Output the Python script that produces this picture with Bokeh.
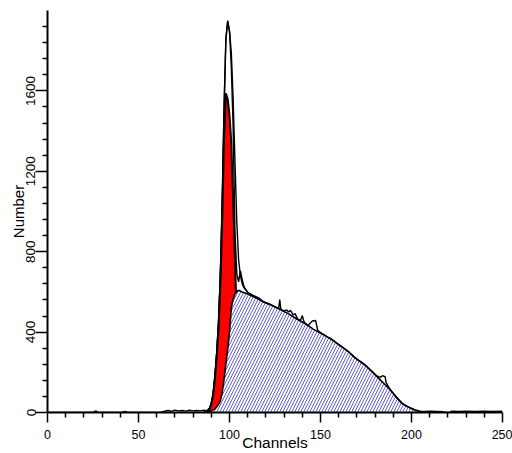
from bokeh.plotting import figure
from bokeh.models import Range1d, FixedTicker
from bokeh.embed import file_html
from bokeh.resources import INLINE

# ---- data ----
# G1 peak (red)
g1_ch = [86, 88, 89, 90, 91, 92, 93, 94, 95, 96, 97, 98, 99, 100, 101, 102, 103, 104, 105, 106, 107, 108, 110]
g1_val = [0, 2, 15, 40, 85, 170, 280, 420, 640, 960, 1360, 1588, 1560, 1480, 1340, 1060, 760, 470, 260, 120, 50, 20, 0]

# S-phase (hatched)
s_ch = [88, 90, 92, 93, 94, 95, 96, 97, 98, 99, 100, 101, 102, 103, 104, 105, 107, 110, 115, 119, 124, 128,
        133, 137, 142, 146, 151, 156, 160, 165, 169, 174, 179, 182, 185, 188, 190, 193, 195, 198, 200, 202, 205, 208]
s_val = [0, 8, 18, 28, 40, 58, 100, 165, 240, 315, 400, 520, 565, 590, 602, 608, 600, 590, 568, 548, 530, 512,
         488, 465, 440, 415, 390, 364, 338, 305, 272, 240, 198, 170, 143, 116, 94, 64, 44, 29, 20, 12, 5, 0]

# fitted total
fit_ch = [86, 88, 89, 90, 91, 92, 93, 94, 95, 96, 97, 98, 99, 100, 101, 102, 103, 104, 105, 106, 107, 108, 110]
fit_val = [8, 10, 20, 48, 95, 185, 305, 460, 700, 1060, 1520, 1850, 1945, 1900, 1790, 1560, 1250, 950, 760, 680, 640, 620, 598]

# measured histogram
data_ch = [0, 25, 26.5, 28, 41, 42.5, 44, 62, 64, 66, 68, 70, 72, 74, 76, 78, 80, 82, 84, 86, 87, 88, 89, 90,
           91, 92, 93, 94, 95, 96, 97, 98, 99, 100, 101, 102, 103, 104, 105, 106, 107, 108, 110, 113, 116, 119,
           122, 125, 127, 127.6, 128.2, 130, 131.5, 132.5, 133.5, 135, 136, 137.5, 139, 140, 141, 143, 145.5,
           147.3, 148.5, 151, 154, 156, 158, 161, 164, 167, 170, 172, 175, 177, 179, 181, 183, 184, 185.5, 186,
           188, 190, 192, 194, 196, 198, 200, 202, 204, 207, 210, 214, 217, 219, 221, 222, 226, 230, 235, 240,
           245, 250]
data_val = [0, 0, 8, 0, 0, 6, 0, 0, 5, 10, 6, 12, 8, 10, 7, 11, 8, 10, 8, 11, 9, 12, 22, 45,
            92, 180, 300, 455, 690, 1050, 1500, 1860, 1950, 1895, 1720, 1420, 900, 690, 650, 705, 660, 625, 598, 583, 570, 550,
            540, 525, 518, 562, 514, 505, 510, 500, 508, 485, 492, 465, 458, 482, 450, 432, 455,
            458, 408, 392, 375, 366, 352, 332, 312, 290, 265, 252, 233, 215, 198, 182, 175, 183, 178, 150,
            118, 95, 72, 52, 38, 28, 20, 12, 7, 5, 6, 5, 4, 0, 0, 6, 5, 6, 5, 6,
            5, 6]

x_major = [0, 50, 100, 150, 200, 250]
x_minor = [10, 20, 30, 40, 60, 70, 80, 90, 110, 120, 130, 140, 160, 170, 180, 190, 210, 220, 230, 240]
y_major = [0, 400, 800, 1200, 1600]
y_minor = [80, 160, 240, 320, 480, 560, 640, 720, 880, 960, 1040, 1120, 1280, 1360, 1440, 1520,
           1680, 1760, 1840, 1920]

FONT = "Liberation Sans"

p = figure(width=512, height=453, output_backend="svg", toolbar_location=None,
           x_range=Range1d(0, 250), y_range=Range1d(0, 2000),
           min_border_left=47, min_border_right=10, min_border_top=10, min_border_bottom=41)
p.outline_line_color = None
p.grid.visible = False
p.background_fill_color = "white"
p.border_fill_color = "white"

# red G1 peak
p.varea(x=g1_ch, y1=[0] * len(g1_ch), y2=g1_val, fill_color="#ff0000")
p.line(g1_ch, g1_val, line_color="black", line_width=2)

# hatched S phase
p.varea(x=s_ch, y1=[0] * len(s_ch), y2=s_val, fill_color="white",
        hatch_pattern="/", hatch_color="#5a5af0", hatch_scale=6, hatch_weight=1)
p.line(s_ch, s_val, line_color="black", line_width=1.6)

# fit total and data
p.line(fit_ch, fit_val, line_color="black", line_width=1.4)
p.line(data_ch, data_val, line_color="black", line_width=1.4)

# axes
xa = p.xaxis[0]
xa.ticker = FixedTicker(ticks=x_major, minor_ticks=x_minor)
xa.axis_line_width = 2
xa.major_tick_line_width = 1.5
xa.minor_tick_line_width = 1.5
xa.major_tick_out = 10
xa.major_tick_in = 0
xa.minor_tick_out = 5
xa.minor_tick_in = 0
xa.major_label_standoff = 7
xa.major_label_text_font = FONT
xa.major_label_text_font_size = "12.5px"
xa.major_label_text_color = "black"
xa.axis_label = "Channels"
xa.axis_label_standoff = -8
xa.axis_label_text_font = FONT
xa.axis_label_text_font_size = "15.5px"
xa.axis_label_text_font_style = "normal"
xa.axis_label_text_color = "black"

ya = p.yaxis[0]
ya.ticker = FixedTicker(ticks=y_major, minor_ticks=y_minor)
ya.axis_line_width = 2
ya.major_tick_line_width = 1.5
ya.minor_tick_line_width = 1.5
ya.major_tick_out = 12
ya.major_tick_in = 0
ya.minor_tick_out = 5
ya.minor_tick_in = 0
ya.major_label_standoff = 0
ya.major_label_orientation = "vertical"
ya.major_label_text_font = FONT
ya.major_label_text_font_size = "13.5px"
ya.major_label_text_color = "black"
ya.axis_label = "Number"
ya.axis_label_standoff = -3
ya.axis_label_text_font = FONT
ya.axis_label_text_font_size = "15px"
ya.axis_label_text_font_style = "normal"
ya.axis_label_text_color = "black"

open("out.html", "w").write(file_html(p, INLINE))
